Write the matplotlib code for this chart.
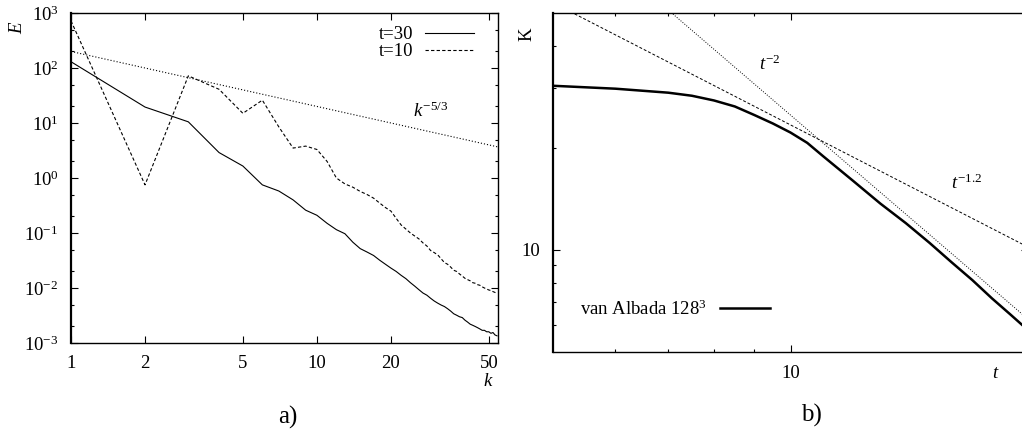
import matplotlib
matplotlib.use('Agg')
import matplotlib.pyplot as plt
from matplotlib.ticker import FixedLocator, NullLocator, NullFormatter, LogLocator

plt.rcParams['font.family'] = ['Liberation Serif', 'DejaVu Serif']
plt.rcParams['mathtext.fontset'] = 'custom'
plt.rcParams['mathtext.rm'] = 'Liberation Serif'
plt.rcParams['mathtext.it'] = 'Liberation Serif:italic'

# a) energy spectra
k = list(range(1, 55))
E_t30 = [130, 19.5, 10.5, 2.9, 1.65, 0.75, 0.58, 0.40, 0.26, 0.21,
         0.15, 0.115, 0.097, 0.068, 0.052, 0.045, 0.039, 0.032, 0.027, 0.023,
         0.020, 0.017, 0.0148, 0.0125, 0.0108, 0.0093, 0.0081, 0.0074, 0.0065, 0.0058,
         0.0053, 0.0049, 0.0046, 0.0042, 0.0038, 0.0034, 0.0032, 0.0030, 0.0029, 0.0026,
         0.0024, 0.0022, 0.0021, 0.0020, 0.0019, 0.0018, 0.0017, 0.0017, 0.0016, 0.0016,
         0.0015, 0.00155, 0.0014, 0.00135]
E_t10 = [720, 0.75, 72, 41, 15, 26, 8.5, 3.5, 3.8, 3.3,
         2.0, 1.0, 0.78, 0.68, 0.57, 0.50, 0.43, 0.35, 0.29, 0.25,
         0.185, 0.14, 0.118, 0.10, 0.088, 0.078, 0.066, 0.058, 0.048, 0.044,
         0.040, 0.034, 0.029, 0.027, 0.024, 0.021, 0.020, 0.018, 0.0165, 0.015,
         0.0142, 0.0135, 0.0125, 0.0122, 0.0115, 0.0112, 0.0105, 0.0100, 0.0096, 0.0092,
         0.0090, 0.0086, 0.0083, 0.0080]
k_ref = [1, 54.5]
E_ref = [200, 3.67]

# b) kinetic energy decay
t = [5, 6, 7, 7.5, 8, 8.5, 9, 9.5, 10, 10.5, 11, 12, 13, 14, 15, 16, 17, 18, 19, 20]
K = [30.5, 29.9, 29.1, 28.5, 27.6, 26.5, 25.0, 23.6, 22.2, 20.7, 18.9, 16.0, 13.7,
     12.0, 10.5, 9.2, 8.15, 7.2, 6.45, 5.8]
t_m2 = [6.9, 20]
K_m2 = [52.5, 6.25]
t_m12 = [5, 20]
K_m12 = [53.6, 10.2]

W, H = 1022, 432
fig = plt.figure(figsize=(W / 100, H / 100), dpi=100)
ax1 = fig.add_axes([71 / W, 1 - 343 / H, 427 / W, 330 / H])
ax2 = fig.add_axes([553 / W, 1 - 352 / H, 475 / W, 339 / H])

fs = 13.5

# ---- panel a
ax1.plot(k, E_t30, color='black', lw=0.8, label='t=30')
ax1.plot(k, E_t10, color='black', lw=0.8, dashes=(3, 2), label='t=10')
ax1.plot(k_ref, E_ref, color='black', lw=0.8, dashes=(1, 1.8))
ax1.set_xscale('log')
ax1.set_yscale('log')
ax1.set_xlim(1, 54.5)
ax1.set_ylim(1e-3, 1e3)
ax1.xaxis.set_major_locator(FixedLocator([1, 2, 5, 10, 20, 50]))
ax1.set_xticklabels(['1', '2', '5', '10', '20', '50'])
ax1.xaxis.set_minor_locator(NullLocator())
ax1.yaxis.set_major_locator(LogLocator(base=10, numticks=20))
ax1.yaxis.set_minor_locator(LogLocator(base=10, subs=(2, 5), numticks=20))
ax1.yaxis.set_minor_formatter(NullFormatter())
ax1.text(29, 16, r'$k^{\mathit{-5/3}}$', fontsize=fs, ha='center', va='center')
ax1.legend(loc='upper right', bbox_to_anchor=(0.975, 1.0), frameon=False,
           markerfirst=False, fontsize=fs, handlelength=2.65, handletextpad=0.6,
           labelspacing=0.0, borderaxespad=0.3)

# ---- panel b
ax2.plot(t, K, color='black', lw=1.8, label=r'van Albada 128$^3$')
ax2.plot(t_m2, K_m2, color='black', lw=0.7, dashes=(1, 1.6))
ax2.plot(t_m12, K_m12, color='black', lw=0.7, dashes=(3, 2))
ax2.set_xscale('log')
ax2.set_yscale('log')
ax2.set_xlim(5, 20)
ax2.set_ylim(5, 50)
ax2.xaxis.set_major_locator(FixedLocator([10]))
ax2.set_xticklabels(['10'])
ax2.xaxis.set_minor_locator(FixedLocator([6, 7, 8, 9, 20]))
ax2.xaxis.set_minor_formatter(NullFormatter())
ax2.yaxis.set_major_locator(FixedLocator([10]))
ax2.set_yticklabels(['10'])
ax2.yaxis.set_minor_locator(FixedLocator([6, 7, 8, 9, 20, 30, 40]))
ax2.yaxis.set_minor_formatter(NullFormatter())
ax2.text(9.4, 35.2, r'$t^{\mathit{-2}}$', fontsize=fs, ha='center', va='center')
ax2.text(16.7, 15.7, r'$t^{\mathit{-1.2}}$', fontsize=fs, ha='center', va='center')
ax2.legend(loc='lower left', bbox_to_anchor=(0.03, 0.06), frameon=False,
           markerfirst=False, fontsize=fs, handlelength=2.65, handletextpad=0.7,
           borderaxespad=0.3)

for ax in (ax1, ax2):
    ax.tick_params(which='both', direction='in', top=True, right=True,
                   labelsize=fs, width=0.8, pad=9)
    ax.tick_params(which='major', length=5)
    ax.tick_params(which='minor', length=2.5)
    for s in ax.spines.values():
        s.set_linewidth(1.0)
    ax.spines['left'].set_linewidth(1.6)

# axis labels placed like the gnuplot originals
fig.text(17 / W, 1 - 27 / H, r'$E$', fontsize=fs, rotation=90, ha='center', va='center')
fig.text(488 / W, 1 - 382 / H, r'$k$', fontsize=fs, ha='center', va='center')
fig.text(527 / W, 1 - 34 / H, 'K', fontsize=fs, rotation=90, ha='center', va='center')
fig.text(996 / W, 1 - 373 / H, r'$t$', fontsize=fs, ha='center', va='center')
fig.text(288 / W, 1 - 417 / H, 'a)', fontsize=18, ha='center', va='center')
fig.text(811 / W, 1 - 415 / H, 'b)', fontsize=18, ha='center', va='center')

fig.savefig('out.png', dpi=100)
